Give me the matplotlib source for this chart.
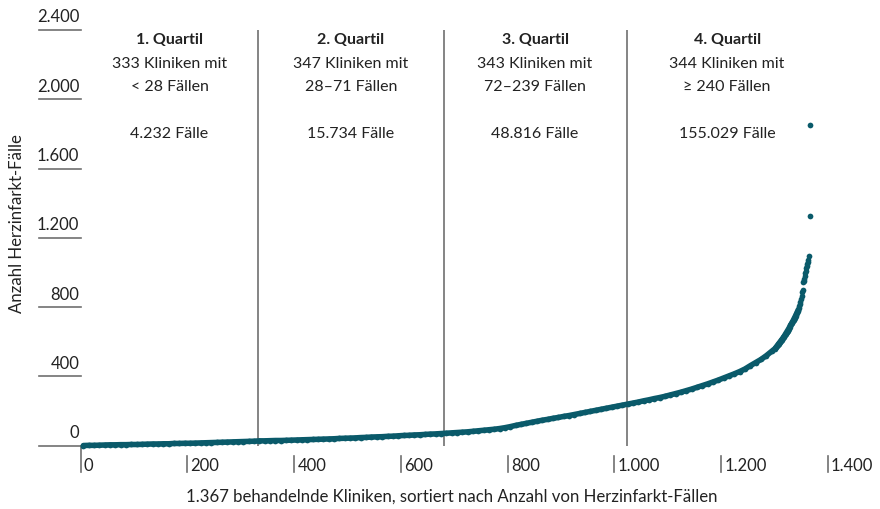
import numpy as np
import matplotlib
matplotlib.use("Agg")
import matplotlib.pyplot as plt

plt.rcParams["font.family"] = ["Lato", "DejaVu Sans"]

# Herzinfarkt-Fälle je Klinik, aufsteigend sortiert
# Werte jeweils für Rang 5, 15, 25, ... 1295
q1_values = [1, 2, 2, 3, 4, 5, 5, 6, 6, 7, 7, 8, 9, 10, 10, 11, 11, 13, 13, 14,
             14, 15, 16, 17, 18, 19, 20, 21, 22, 23, 24, 25, 26]
q2_values = [28, 28, 29, 30, 30, 31, 32, 33, 34, 35, 36, 37, 38, 39, 40, 42, 43, 44,
             45, 47, 48, 50, 51, 52, 54, 55, 57, 59, 60, 62, 63, 65, 67, 68, 70]
q3_values = [72, 74, 76, 78, 80, 83, 86, 89, 92, 95, 99, 104, 110, 117, 123, 129, 135,
             141, 147, 152, 158, 163, 169, 174, 180, 186, 192, 198, 204, 210, 216, 222,
             228, 234]
q4_values = [240, 246, 252, 259, 265, 272, 278, 285, 293, 301, 309, 318, 327, 337, 347,
             357, 368, 379, 391, 403, 415, 428, 443, 462, 480, 498, 520, 545]
# Einzelwerte für Rang 1301 ... 1345 (dicht) und 1346 ... 1367 (Spitze)
tail_dense = [560, 564, 568, 572, 577, 581, 585, 589, 593, 597,
              601, 605, 609, 613, 617, 621, 625, 630, 635, 640,
              645, 650, 654, 659, 664, 670, 676, 682, 688, 694,
              700, 705, 710, 715, 721, 727, 733, 739, 745, 751,
              758, 765, 772, 779, 786]
tail_top = [795, 805, 818, 832, 847, 862, 885, 900, 943, 950, 962, 981, 995, 1010,
            1025, 1040, 1050, 1058, 1070, 1093, 1328, 1851]

quartile_bounds = [333, 680, 1023]
quartile_titles = ["1. Quartil", "2. Quartil", "3. Quartil", "4. Quartil"]
quartile_counts = ["333 Kliniken mit", "347 Kliniken mit", "343 Kliniken mit", "344 Kliniken mit"]
quartile_ranges = ["< 28 Fällen", "28–71 Fällen", "72–239 Fällen", "≥ 240 Fällen"]
quartile_totals = ["4.232 Fälle", "15.734 Fälle", "48.816 Fälle", "155.029 Fälle"]

y_ticks = [0, 400, 800, 1200, 1600, 2000, 2400]
y_labels = ["0", "400", "800", "1.200", "1.600", "2.000", "2.400"]
x_ticks = [0, 200, 400, 600, 800, 1000, 1200, 1400]
x_labels = ["0", "200", "400", "600", "800", "1.000", "1.200", "1.400"]

body_values = q1_values + q2_values + q3_values + q4_values + tail_dense
body_ranks = np.concatenate([np.arange(130) * 10 + 5,
                             np.arange(len(tail_dense)) + 1301])
top_ranks = np.arange(len(tail_top)) + 1301 + len(tail_dense)

teal = "#0a5a6a"
grey = "#707070"
ink = "#222222"

fig = plt.figure(figsize=(8.8, 5.1), dpi=100)
W, H = 880, 510
left, right, top, bottom = 80.7, 827.7, 31.0, 446.7
ax = fig.add_axes([left / W, 1 - bottom / H, (right - left) / W, (bottom - top) / H])
ax.set_xlim(0, 1400)
ax.set_ylim(0, 2400)
ax.axis("off")

# Quartilsgrenzen
for b in quartile_bounds:
    ax.plot([b, b], [0, 2400], color=grey, lw=1.2, zorder=1)

# Kurve
ax.plot(body_ranks, body_values, color=teal, lw=4.0,
        solid_capstyle="round", zorder=3, clip_on=False)
ax.scatter(body_ranks, body_values, s=17, color=teal, lw=0, zorder=4, clip_on=False)
ax.scatter(top_ranks, tail_top, s=17, color=teal, lw=0, zorder=4, clip_on=False)

# y-Achse: kurze Linien mit Beschriftung darüber
ytr = ax.get_yaxis_transform()
x0 = (39 - left) / (right - left)
for v, lab in zip(y_ticks, y_labels):
    ax.plot([x0, 0], [v, v], color=grey, lw=1.2, transform=ytr, clip_on=False, zorder=2)
    ax.annotate(lab, (0, v), xycoords=ytr, xytext=(-1, 4), textcoords="offset points",
                ha="right", va="bottom", fontsize=12, color=ink)

# x-Achse: Striche unterhalb mit Beschriftung rechts daneben
xtr = ax.get_xaxis_transform()
ph = bottom - top
for v, lab in zip(x_ticks, x_labels):
    y_start = 0 if v == 0 else -10 / ph
    ax.plot([v, v], [y_start, -26.3 / ph], color=grey, lw=1.2, transform=xtr,
            clip_on=False, zorder=2)
    ax.text(v + 6, -19.5 / ph, lab, transform=xtr, ha="left", va="center",
            fontsize=12, color=ink)

# Beschriftung der Quartile
edges = [0] + quartile_bounds + [1400]
for i in range(4):
    xc = (edges[i] + edges[i + 1]) / 2
    ax.text(xc, 2347, quartile_titles[i], ha="center", va="center", fontsize=11.5,
            fontweight="bold", color=ink)
    ax.text(xc, 2209, quartile_counts[i], ha="center", va="center", fontsize=11.5, color=ink)
    ax.text(xc, 2076, quartile_ranges[i], ha="center", va="center", fontsize=11.5, color=ink)
    ax.text(xc, 1805, quartile_totals[i], ha="center", va="center", fontsize=11.5, color=ink)

fig.text(452 / W, 1 - 497 / H,
         "1.367 behandelnde Kliniken, sortiert nach Anzahl von Herzinfarkt-Fällen",
         ha="center", va="center", fontsize=12.1, color=ink)
fig.text(17 / W, 1 - 224 / H, "Anzahl Herzinfarkt-Fälle", rotation=90,
         ha="center", va="center", fontsize=12.1, color=ink)

fig.savefig("out.png", dpi=100)
